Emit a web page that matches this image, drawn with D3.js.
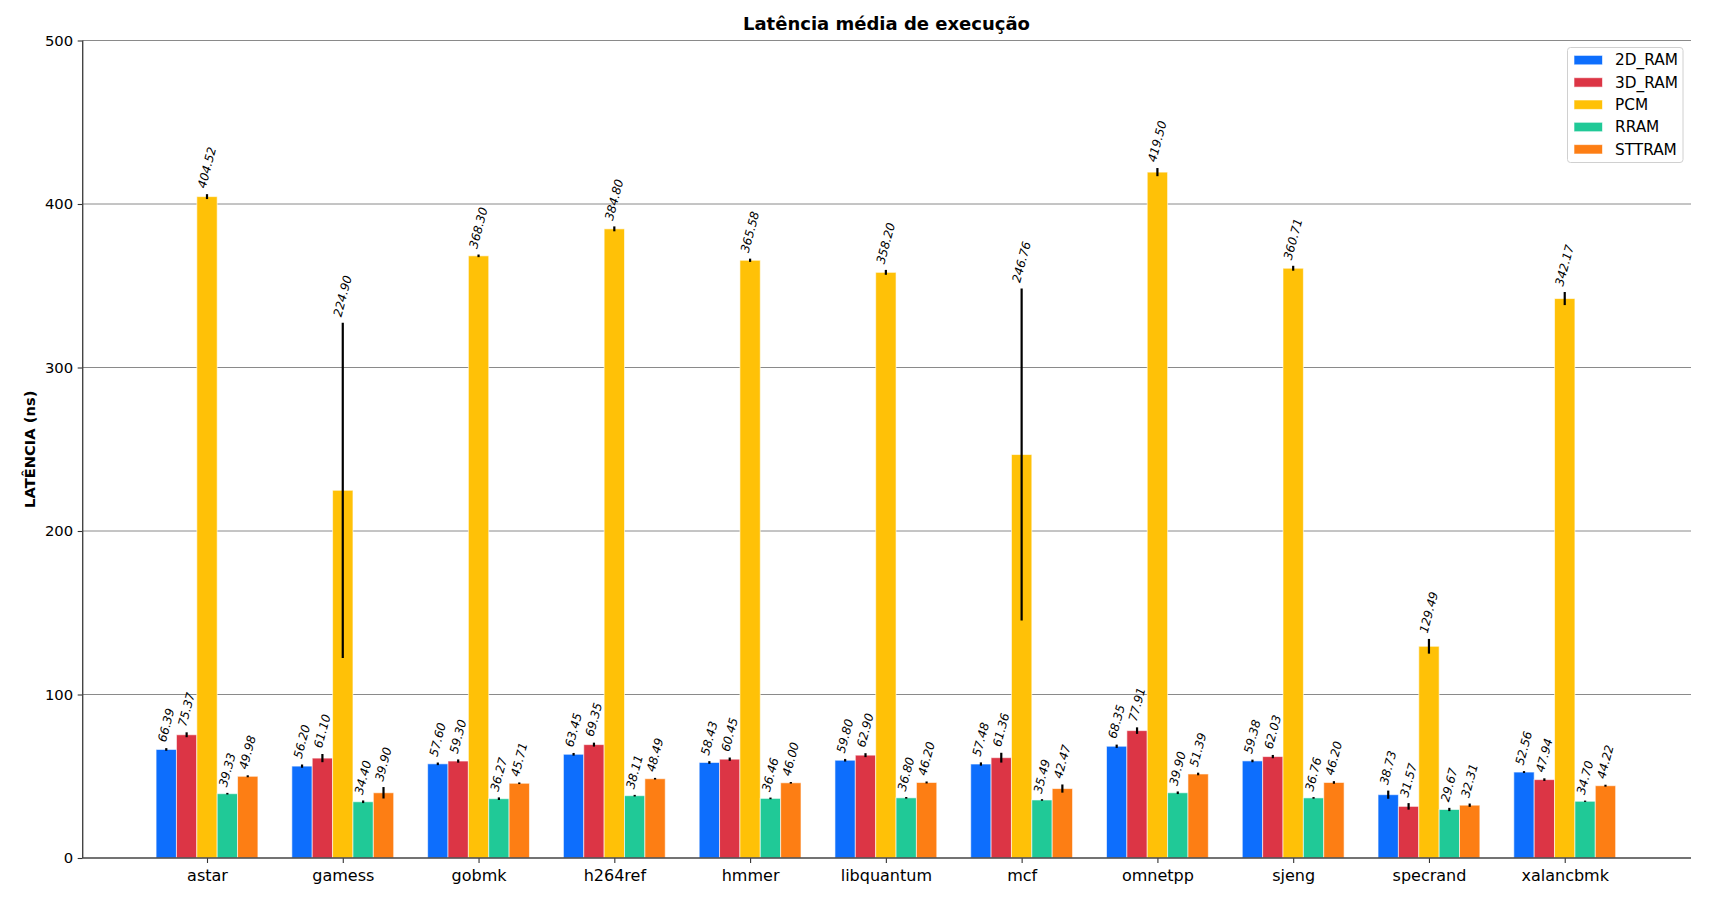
<!DOCTYPE html>
<html>
<head>
<meta charset="utf-8">
<script src="https://cdn.jsdelivr.net/npm/d3@7"></script>
<style>
  html, body { margin: 0; padding: 0; background: #fff; }
  svg { display: block; font-family: "DejaVu Sans", sans-serif; }
</style>
</head>
<body>
<svg id="chart" width="1733" height="913"></svg>
<script>
const categories = ["astar", "gamess", "gobmk", "h264ref", "hmmer", "libquantum", "mcf", "omnetpp", "sjeng", "specrand", "xalancbmk"];
const seriesNames = ["2D_RAM", "3D_RAM", "PCM", "RRAM", "STTRAM"];
const seriesColors = ["#0d6efd", "#dc3545", "#ffc107", "#20c997", "#fd7e14"];

const ram2d  = [66.39, 56.20, 57.60, 63.45, 58.43, 59.80, 57.48, 68.35, 59.38, 38.73, 52.56];
const ram3d  = [75.37, 61.10, 59.30, 69.35, 60.45, 62.90, 61.36, 77.91, 62.03, 31.57, 47.94];
const pcm    = [404.52, 224.90, 368.30, 384.80, 365.58, 358.20, 246.76, 419.50, 360.71, 129.49, 342.17];
const rram   = [39.33, 34.40, 36.27, 38.11, 36.46, 36.80, 35.49, 39.90, 36.76, 29.67, 34.70];
const sttram = [49.98, 39.90, 45.71, 48.49, 46.00, 46.20, 42.47, 51.39, 46.20, 32.31, 44.22];

const err2d  = [0.8, 1.0, 0.8, 0.8, 0.8, 0.8, 1.0, 1.0, 0.8, 2.5, 0.6];
const err3d  = [1.5, 2.5, 1.0, 1.2, 1.0, 1.2, 3.0, 2.0, 1.0, 2.0, 0.8];
const errPcm = [1.5, 102.5, 0.8, 1.5, 1.0, 1.5, 101.5, 2.5, 1.5, 4.5, 4.0];
const errRram = [0.5, 0.8, 0.8, 0.5, 0.5, 0.5, 0.5, 0.8, 0.5, 1.0, 0.4];
const errStt = [0.6, 3.5, 0.5, 0.5, 0.5, 0.6, 2.5, 0.8, 0.8, 1.0, 0.6];

const yTicks = [0, 100, 200, 300, 400, 500];
const titleText = "Latência média de execução";
const yLabelText = "LATÊNCIA (ns)";

const seriesValues = [ram2d, ram3d, pcm, rram, sttram];
const seriesErrors = [err2d, err3d, errPcm, errRram, errStt];

const svg = d3.select("#chart");
const pLeft = 82.7, pRight = 1691, pTop = 40.5, pBottom = 858;

const x = d3.scaleLinear().domain([-0.9155, 10.93]).range([pLeft, pRight]);
const y = d3.scaleLinear().domain([0, 500]).range([pBottom, pTop]);
const barW = 0.15;

// grid
svg.append("g").selectAll("line").data(yTicks.filter(d => d > 0)).join("line")
  .attr("x1", pLeft).attr("x2", pRight)
  .attr("y1", d => y(d)).attr("y2", d => y(d))
  .attr("stroke", "#8a8a8a").attr("stroke-width", 1);

// bars
const barsG = svg.append("g");
seriesValues.forEach((vals, s) => {
  const off = (s - 2) * barW;
  barsG.append("g").selectAll("rect").data(vals).join("rect")
    .attr("x", (d, i) => x(i + off - barW / 2))
    .attr("width", x(barW) - x(0))
    .attr("y", d => y(d))
    .attr("height", d => y(0) - y(d))
    .attr("fill", seriesColors[s])
    .attr("stroke", "#ffffff").attr("stroke-opacity", 0.6).attr("stroke-width", 1);
});

// error bars
const errG = svg.append("g");
seriesValues.forEach((vals, s) => {
  const off = (s - 2) * barW;
  const errs = seriesErrors[s];
  errG.append("g").selectAll("line").data(vals).join("line")
    .attr("x1", (d, i) => x(i + off)).attr("x2", (d, i) => x(i + off))
    .attr("y1", (d, i) => y(d - errs[i])).attr("y2", (d, i) => y(d + errs[i]))
    .attr("stroke", "#000").attr("stroke-width", 2.2);
});

// value labels
const labG = svg.append("g");
seriesValues.forEach((vals, s) => {
  const off = (s - 2) * barW;
  const errs = seriesErrors[s];
  vals.forEach((d, i) => {
    const cx = x(i + off);
    const yt = y(d + errs[i]) - 4.5;
    const g = labG.append("g");
    g.append("text")
      .attr("transform", "rotate(-75)")
      .attr("font-size", 12)
      .attr("font-style", "italic")
      .attr("fill", "#000")
      .text(d.toFixed(2));
    const bb = g.node().getBBox();
    g.attr("transform", `translate(${cx - (bb.x + bb.width / 2)},${yt - (bb.y + bb.height)})`);
  });
});

// y axis
const yAxis = svg.append("g").attr("transform", `translate(${pLeft},0)`)
  .call(d3.axisLeft(y).tickValues(yTicks).tickSize(5).tickPadding(4.5).tickFormat(d3.format("d")));
yAxis.select(".domain").remove();
yAxis.selectAll(".tick line").attr("stroke", "#333").attr("stroke-width", 1.1);
yAxis.selectAll("text").attr("font-size", 14.8).attr("fill", "#000").attr("font-family", "DejaVu Sans");
svg.append("line").attr("x1", pLeft).attr("x2", pLeft).attr("y1", pTop).attr("y2", pBottom)
  .attr("stroke", "#444").attr("stroke-width", 1.4);

// x axis
const xAxis = svg.append("g").attr("transform", `translate(0,${pBottom})`)
  .call(d3.axisBottom(x).tickValues(d3.range(categories.length)).tickSize(5).tickPadding(6.5).tickFormat(i => categories[i]));
xAxis.select(".domain").remove();
xAxis.selectAll(".tick line").attr("stroke", "#333").attr("stroke-width", 1.1);
xAxis.selectAll("text").attr("font-size", 16).attr("fill", "#000").attr("font-family", "DejaVu Sans");
svg.append("line").attr("x1", pLeft).attr("x2", pRight).attr("y1", pBottom).attr("y2", pBottom)
  .attr("stroke", "#444").attr("stroke-width", 1.4);

// title
svg.append("text").attr("x", 886.5).attr("y", 30).attr("text-anchor", "middle")
  .attr("font-size", 18).attr("font-weight", "bold").attr("fill", "#000").text(titleText);

// y label
svg.append("text").attr("transform", `translate(35,${(pTop + pBottom) / 2}) rotate(-90)`)
  .attr("text-anchor", "middle").attr("font-size", 14.7).attr("font-weight", "bold").attr("fill", "#000")
  .text(yLabelText);

// legend
const lg = svg.append("g");
lg.append("rect").attr("x", 1567.5).attr("y", 47.5).attr("width", 115.5).attr("height", 115)
  .attr("rx", 3).attr("fill", "#fff").attr("fill-opacity", 0.8).attr("stroke", "#d0d0d0").attr("stroke-width", 1);
seriesNames.forEach((n, k) => {
  const cy = 60 + k * 22.3;
  lg.append("rect").attr("x", 1574).attr("y", cy - 4.6).attr("width", 28.5).attr("height", 9.4)
    .attr("fill", seriesColors[k]).attr("stroke", "#fff").attr("stroke-opacity", 0.6).attr("stroke-width", 1);
  lg.append("text").attr("x", 1615).attr("y", cy + 5.4).attr("font-size", 15.3).attr("fill", "#000").text(n);
});
</script>
</body>
</html>
